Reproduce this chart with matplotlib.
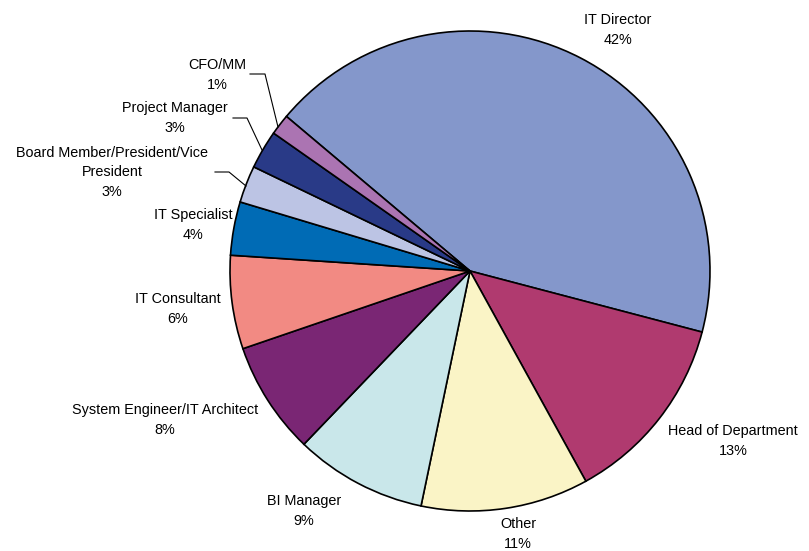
import matplotlib.pyplot as plt
from matplotlib.lines import Line2D

plt.rcParams["font.family"] = ["Liberation Sans", "DejaVu Sans"]

roles = ["IT Director", "Head of Department", "Other", "BI Manager",
         "System Engineer/IT Architect", "IT Consultant", "IT Specialist",
         "Board Member/President/Vice\nPresident", "Project Manager", "CFO/MM"]
shares = [43.0, 12.9, 11.3, 8.9, 7.6, 6.3, 3.6, 2.5, 2.6, 1.4]
pct_text = ["42%", "13%", "11%", "9%", "8%", "6%", "4%", "3%", "3%", "1%"]
colors = ["#8497CB", "#B03A6F", "#FAF4C6", "#C9E7EA", "#7A2674",
          "#F28A83", "#006BB5", "#BCC4E4", "#293A87", "#AB74B2"]

# label centres in pixel coords (x, y from top)
label_pos = [(618, 30), (733, 441), (518, 534), (304, 511), (165, 420),
             (178, 309), (193, 225), (112, 172), (175, 118), (217, 75)]
# leader lines (pixel coords) for the small slices
leaders = [
    [(215, 172), (229, 172), (246, 186)],
    [(233, 118), (247, 118), (262, 150)],
    [(250, 74), (265, 74), (278, 127)],
]

W, H = 809, 551
fig = plt.figure(figsize=(W / 100, H / 100), dpi=100)
cx, cy, r = 470, 271, 240
ax = fig.add_axes([(cx - r) / W, (H - cy - r) / H, 2 * r / W, 2 * r / H])
ax.pie(shares, colors=colors, startangle=139.9, counterclock=False,
       wedgeprops=dict(edgecolor="black", linewidth=1.2))
ax.set_xlim(-1, 1)
ax.set_ylim(-1, 1)
ax.set_aspect("equal")
ax.axis("off")

for name, pct, (px, py) in zip(roles, pct_text, label_pos):
    fig.text(px / W, 1 - py / H, f"{name}\n{pct}", ha="center", va="center",
             fontsize=10.4, linespacing=1.5, color="black")

for pts in leaders:
    xs = [p[0] / W for p in pts]
    ys = [1 - p[1] / H for p in pts]
    fig.add_artist(Line2D(xs, ys, color="black", lw=0.8,
                          transform=fig.transFigure))

fig.savefig("out.png", dpi=100, facecolor="white")
